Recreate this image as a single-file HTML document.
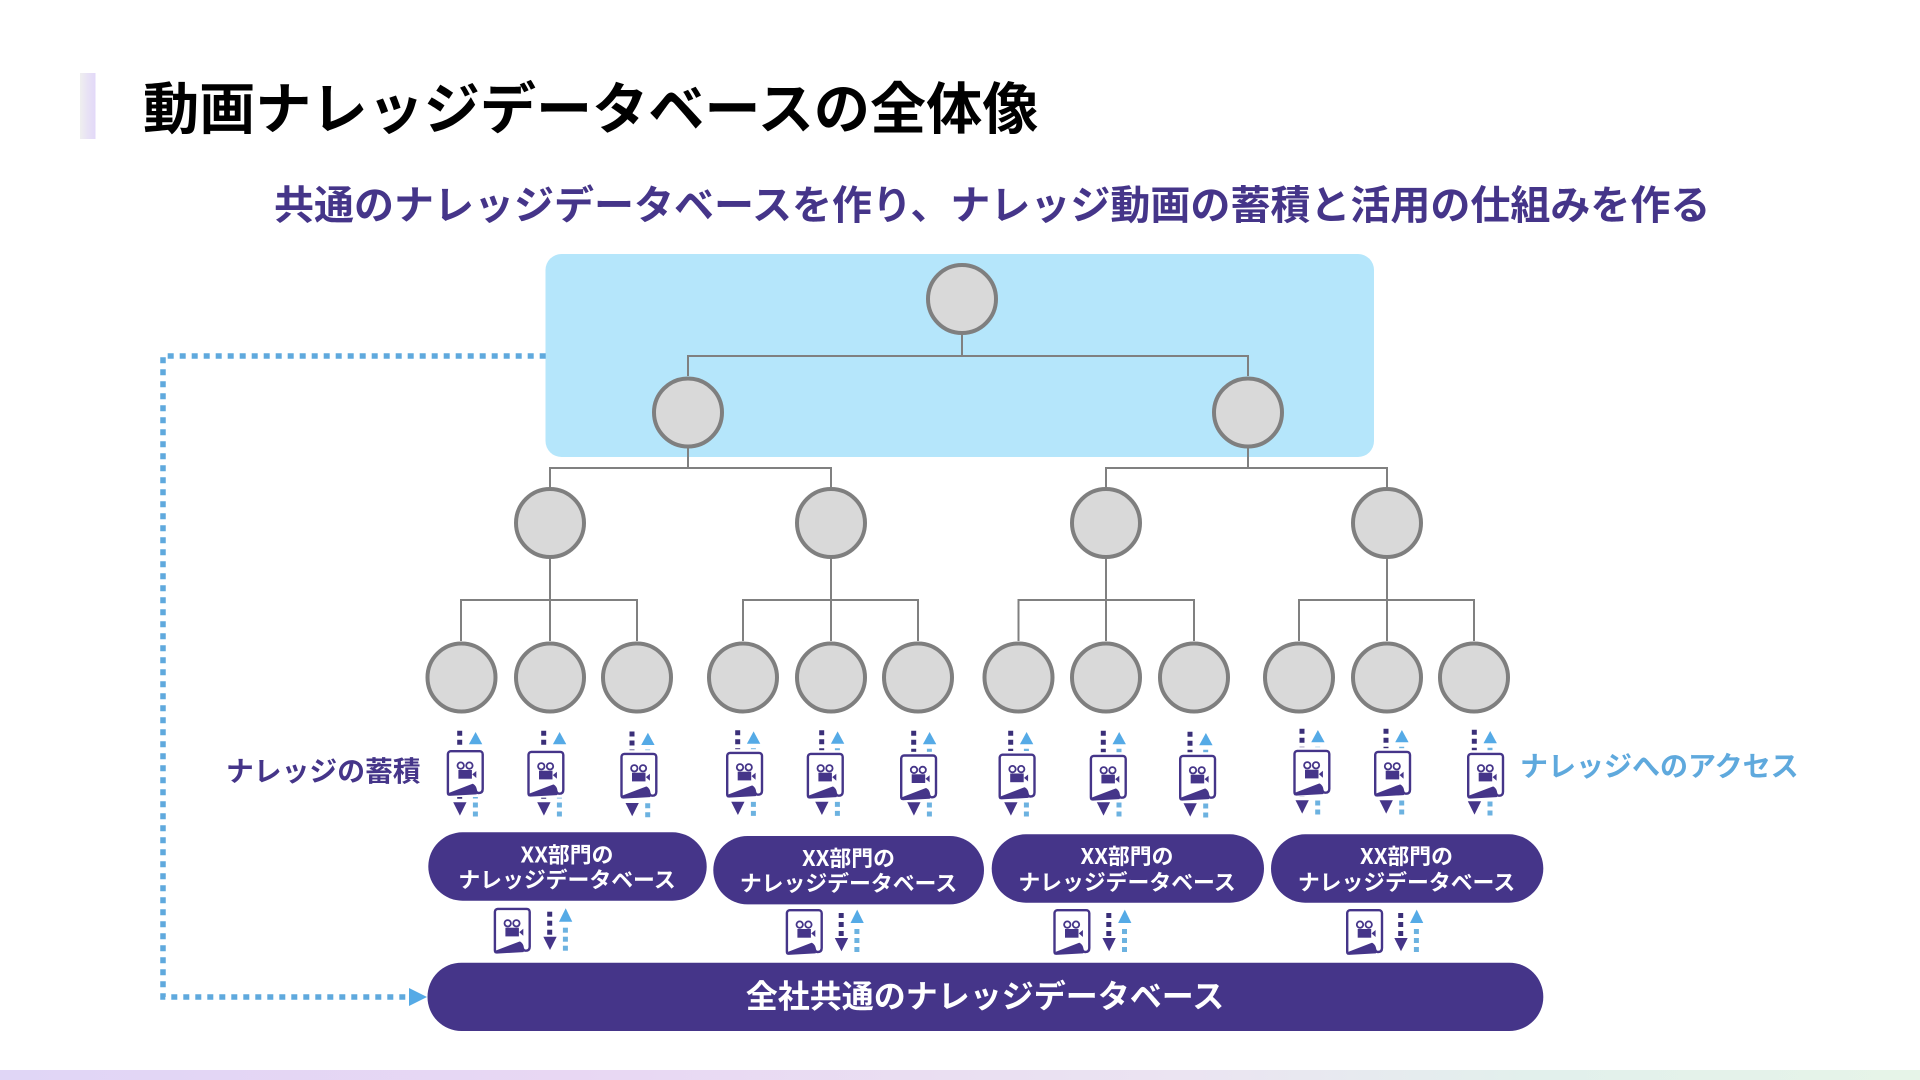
<!DOCTYPE html>
<html lang="ja">
<head>
<meta charset="utf-8">
<title>動画ナレッジデータベースの全体像</title>
<style>
html,body{margin:0;padding:0;background:#fff;width:1920px;height:1080px;overflow:hidden}
svg{display:block}
text{font-family:"Noto Sans CJK JP","Liberation Sans",sans-serif;font-weight:700}
</style>
</head>
<body>
<svg width="1920" height="1080" viewBox="0 0 1920 1080" xmlns="http://www.w3.org/2000/svg">
<defs>
<linearGradient id="foot" x1="0" x2="1" y1="0" y2="0">
<stop offset="0" stop-color="#e0d6f6"/><stop offset=".3" stop-color="#e8d7f3"/><stop offset=".62" stop-color="#ebe4f2"/><stop offset=".8" stop-color="#e2f0ec"/><stop offset="1" stop-color="#e6f4e8"/>
</linearGradient>
<linearGradient id="bar" x1="0" x2="1" y1="0" y2="0">
<stop offset="0" stop-color="#efefef"/><stop offset=".5" stop-color="#e8e2f5"/><stop offset="1" stop-color="#e2d8f8"/>
</linearGradient>
<g id="doc">
<rect x="-2" y="-2.5" width="41" height="49.5" fill="#fff"/>
<path d="M4 1.2H33A3 3 0 0 1 36 4.2V39Q36 43 32 43Q29.5 43 29 40Q28.5 36.5 26 35L2 44.2Q1.2 44.5 1.2 42V4A3 3 0 0 1 4 1.2Z" fill="#fff" stroke="#453589" stroke-width="2.4" stroke-linejoin="round"/>
<path d="M1.5 45L26 35Q28.5 37 29 40.5L29.5 43.8L3 45.3Z" fill="#453589" stroke="#453589" stroke-width="1.2" stroke-linejoin="round"/>
<circle cx="14" cy="15.6" r="3.2" fill="none" stroke="#453589" stroke-width="1.8"/>
<circle cx="22.7" cy="15.6" r="3.2" fill="none" stroke="#453589" stroke-width="1.8"/>
<rect x="11.7" y="20" width="13.5" height="8.7" fill="#453589"/>
<polygon points="25.5,24.4 29.6,21 29.6,28" fill="#453589"/>
</g>
<g id="ar">
<path d="M0 -2.5V66" fill="none" stroke="#3a2f78" stroke-width="5" stroke-dasharray="5 4"/>
<polygon points="-6.5,69 6.8,69 0.2,82.3" fill="#453589"/>
<polygon points="9.2,11 22.6,11 15.9,-1.3" fill="#55aae6"/>
<path d="M15.7 83.2V15.5" fill="none" stroke="#6cb2e0" stroke-width="5" stroke-dasharray="5 4"/>
</g>
<g id="b">
<rect x="53.5" y="4" width="5" height="5" fill="#3a2f78"/>
<rect x="53.5" y="13" width="5" height="5" fill="#3a2f78"/>
<rect x="53.5" y="22" width="5" height="5" fill="#3a2f78"/>
<polygon points="49.6,29 63,29 56.3,42.3" fill="#453589"/>
<polygon points="65.3,14 78.6,14 72,0.6" fill="#55aae6"/>
<rect x="69.2" y="20" width="5" height="5" fill="#6cb2e0"/>
<rect x="69.2" y="29" width="5" height="5" fill="#6cb2e0"/>
<rect x="69.2" y="38" width="5" height="5" fill="#6cb2e0"/>
</g>
</defs>

<rect width="1920" height="1080" fill="#fff"/>
<rect x="80" y="73" width="15.5" height="66" fill="url(#bar)"/>
<rect x="0" y="1070" width="1920" height="10" fill="url(#foot)"/>

<text x="143" y="129" font-size="56.15" fill="#000">動画ナレッジデータベースの全体像</text>
<text x="274" y="219" font-size="40" fill="#453589">共通のナレッジデータベースを作り、ナレッジ動画の蓄積と活用の仕組みを作る</text>

<rect x="545.5" y="254" width="828.5" height="203" rx="16" fill="#b5e6fb"/>

<g fill="none" stroke="#808080" stroke-width="2">
<path d="M962 335V356M688 376V356H1248V376"/>
<path d="M688 448V468M550 487V468H831V487"/>
<path d="M1248 448V468M1106 487V468H1387V487"/>
<path d="M550 559V641M461 641V600H637V641"/>
<path d="M831 559V641M743 641V600H918V641"/>
<path d="M1106 559V641M1018.5 641V600H1194V641"/>
<path d="M1387 559V641M1299 641V600H1474V641"/>
</g>

<g fill="#d9d9d9" stroke="#7f7f7f" stroke-width="4">
<circle cx="962" cy="299" r="34"/>
<circle cx="688" cy="412.5" r="34"/><circle cx="1248" cy="412.5" r="34"/>
<circle cx="550" cy="523" r="34"/><circle cx="831" cy="523" r="34"/><circle cx="1106" cy="523" r="34"/><circle cx="1387" cy="523" r="34"/>
<circle cx="461.5" cy="677.5" r="34"/><circle cx="550" cy="677.5" r="34"/><circle cx="637" cy="677.5" r="34"/>
<circle cx="743" cy="677.5" r="34"/><circle cx="831" cy="677.5" r="34"/><circle cx="918" cy="677.5" r="34"/>
<circle cx="1018.5" cy="677.5" r="34"/><circle cx="1106" cy="677.5" r="34"/><circle cx="1194" cy="677.5" r="34"/>
<circle cx="1299" cy="677.5" r="34"/><circle cx="1387" cy="677.5" r="34"/><circle cx="1474" cy="677.5" r="34"/>
</g>

<path d="M545.7 356H163V997H409" fill="none" stroke="#5fa9dd" stroke-width="5.5" stroke-dasharray="6 6"/>
<polygon points="409,988 409,1006 427,997" fill="#55aae6"/>

<use href="#ar" x="459.7" y="733.3"/><use href="#doc" x="446.7" y="750"/>
<use href="#ar" x="543.7" y="733.3"/><use href="#doc" x="527.3" y="750.7"/>
<use href="#ar" x="632" y="734"/><use href="#doc" x="620.3" y="752.7"/>
<use href="#ar" x="737.7" y="732.7"/><use href="#doc" x="726" y="751.7"/>
<use href="#ar" x="821.7" y="732.7"/><use href="#doc" x="806.7" y="752.7"/>
<use href="#ar" x="913.7" y="733.3"/><use href="#doc" x="900" y="754.3"/>
<use href="#ar" x="1010.7" y="733.3"/><use href="#doc" x="998.5" y="753.5"/>
<use href="#ar" x="1103.3" y="733.3"/><use href="#doc" x="1089.7" y="754.7"/>
<use href="#ar" x="1190" y="734.3"/><use href="#doc" x="1179" y="754.7"/>
<use href="#ar" x="1302" y="731.3"/><use href="#doc" x="1293.3" y="749.7"/>
<use href="#ar" x="1386" y="731.3"/><use href="#doc" x="1374" y="750.7"/>
<use href="#ar" x="1474.3" y="732.3"/><use href="#doc" x="1467" y="752.7"/>

<rect x="428.3" y="832.3" width="278.4" height="68.4" rx="34.2" fill="#453589"/>
<rect x="713.3" y="836" width="270.7" height="68.4" rx="34.2" fill="#453589"/>
<rect x="991.7" y="834.3" width="272.3" height="68.4" rx="34.2" fill="#453589"/>
<rect x="1271" y="834.3" width="272.3" height="68.4" rx="34.2" fill="#453589"/>
<rect x="427.5" y="962.7" width="1115.8" height="68.3" rx="34" fill="#453589"/>

<g fill="#fff" font-size="21.85" text-anchor="middle">
<text x="567" y="862.5">XX部門の</text><text x="567" y="887.5">ナレッジデータベース</text>
<text x="848.5" y="866">XX部門の</text><text x="848.5" y="891">ナレッジデータベース</text>
<text x="1127" y="864">XX部門の</text><text x="1127" y="890">ナレッジデータベース</text>
<text x="1406.5" y="864">XX部門の</text><text x="1406.5" y="890">ナレッジデータベース</text>
</g>
<text x="985" y="1007.5" font-size="32" fill="#fff" text-anchor="middle">全社共通のナレッジデータベース</text>

<use href="#doc" x="493.7" y="907.7"/><use href="#b" x="493.7" y="907.7"/>
<use href="#doc" x="785.7" y="909"/><use href="#b" x="785.2" y="909"/>
<use href="#doc" x="1053.3" y="909"/><use href="#b" x="1052.8" y="909"/>
<use href="#doc" x="1346" y="909"/><use href="#b" x="1344.7" y="909"/>

<text x="226" y="781" font-size="27.8" fill="#453589">ナレッジの蓄積</text>
<text x="1520" y="776" font-size="28" fill="#5fa9dd">ナレッジへのアクセス</text>
</svg>
</body>
</html>
